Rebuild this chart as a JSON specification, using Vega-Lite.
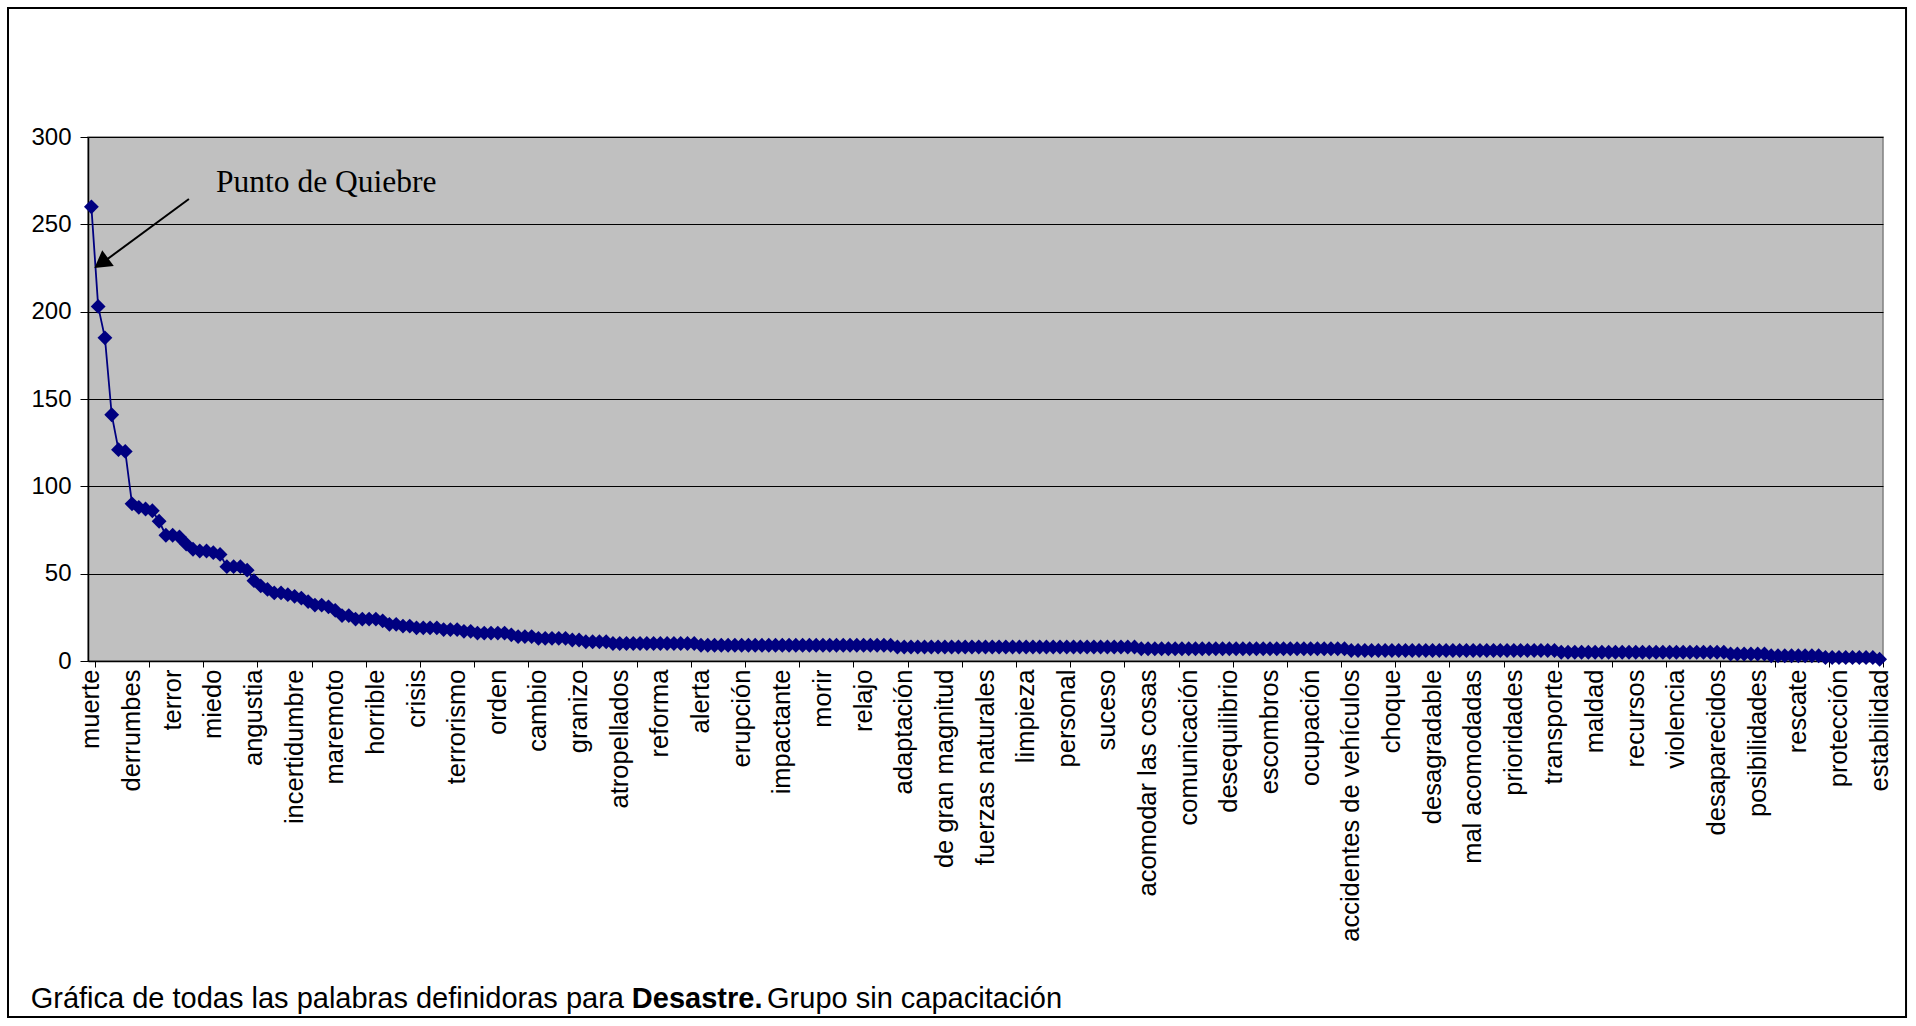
{
  "$schema": "https://vega.github.io/schema/vega-lite/v6.json",
  "width": 1795,
  "height": 524,
  "autosize": {"type": "none"},
  "padding": {"left": 88, "top": 137, "right": 33, "bottom": 365},
  "background": "#FFFFFF",
  "config": {
    "view": {"fill": "#C0C0C0", "stroke": "#808080", "strokeWidth": 1.5},
    "font": "Liberation Sans"
  },
  "datasets": {
    "frecuencias": [
      {"rango":1,"frecuencia":260,"palabra":"muerte"},{"rango":2,"frecuencia":203},{"rango":3,"frecuencia":185},{"rango":4,"frecuencia":141},{"rango":5,"frecuencia":121},{"rango":6,"frecuencia":120},
      {"rango":7,"frecuencia":90,"palabra":"derrumbes"},{"rango":8,"frecuencia":88},{"rango":9,"frecuencia":87},{"rango":10,"frecuencia":86},{"rango":11,"frecuencia":80},{"rango":12,"frecuencia":72},
      {"rango":13,"frecuencia":72,"palabra":"terror"},{"rango":14,"frecuencia":71},{"rango":15,"frecuencia":67},{"rango":16,"frecuencia":64},{"rango":17,"frecuencia":63},{"rango":18,"frecuencia":63},
      {"rango":19,"frecuencia":62,"palabra":"miedo"},{"rango":20,"frecuencia":61},{"rango":21,"frecuencia":54},{"rango":22,"frecuencia":54},{"rango":23,"frecuencia":54},{"rango":24,"frecuencia":52},
      {"rango":25,"frecuencia":46,"palabra":"angustia"},{"rango":26,"frecuencia":43},{"rango":27,"frecuencia":41},{"rango":28,"frecuencia":39},{"rango":29,"frecuencia":39},{"rango":30,"frecuencia":38},
      {"rango":31,"frecuencia":37,"palabra":"incertidumbre"},{"rango":32,"frecuencia":36},{"rango":33,"frecuencia":34},{"rango":34,"frecuencia":32},{"rango":35,"frecuencia":32},{"rango":36,"frecuencia":31},
      {"rango":37,"frecuencia":29,"palabra":"maremoto"},{"rango":38,"frecuencia":26},{"rango":39,"frecuencia":26},{"rango":40,"frecuencia":24},{"rango":41,"frecuencia":24},{"rango":42,"frecuencia":24},
      {"rango":43,"frecuencia":24,"palabra":"horrible"},{"rango":44,"frecuencia":23},{"rango":45,"frecuencia":21},{"rango":46,"frecuencia":21},{"rango":47,"frecuencia":20},{"rango":48,"frecuencia":20},
      {"rango":49,"frecuencia":19,"palabra":"crisis"},{"rango":50,"frecuencia":19},{"rango":51,"frecuencia":19},{"rango":52,"frecuencia":19},{"rango":53,"frecuencia":18},{"rango":54,"frecuencia":18},
      {"rango":55,"frecuencia":18,"palabra":"terrorismo"},{"rango":56,"frecuencia":17},{"rango":57,"frecuencia":17},{"rango":58,"frecuencia":16},{"rango":59,"frecuencia":16},{"rango":60,"frecuencia":16},
      {"rango":61,"frecuencia":16,"palabra":"orden"},{"rango":62,"frecuencia":16},{"rango":63,"frecuencia":15},{"rango":64,"frecuencia":14},{"rango":65,"frecuencia":14},{"rango":66,"frecuencia":14},
      {"rango":67,"frecuencia":13,"palabra":"cambio"},{"rango":68,"frecuencia":13},{"rango":69,"frecuencia":13},{"rango":70,"frecuencia":13},{"rango":71,"frecuencia":13},{"rango":72,"frecuencia":12},
      {"rango":73,"frecuencia":12,"palabra":"granizo"},{"rango":74,"frecuencia":11},{"rango":75,"frecuencia":11},{"rango":76,"frecuencia":11},{"rango":77,"frecuencia":11},{"rango":78,"frecuencia":10},
      {"rango":79,"frecuencia":10,"palabra":"atropellados"},{"rango":80,"frecuencia":10},{"rango":81,"frecuencia":10},{"rango":82,"frecuencia":10},{"rango":83,"frecuencia":10},{"rango":84,"frecuencia":10},
      {"rango":85,"frecuencia":10,"palabra":"reforma"},{"rango":86,"frecuencia":10},{"rango":87,"frecuencia":10},{"rango":88,"frecuencia":10},{"rango":89,"frecuencia":10},{"rango":90,"frecuencia":10},
      {"rango":91,"frecuencia":9,"palabra":"alerta"},{"rango":92,"frecuencia":9},{"rango":93,"frecuencia":9},{"rango":94,"frecuencia":9},{"rango":95,"frecuencia":9},{"rango":96,"frecuencia":9},
      {"rango":97,"frecuencia":9,"palabra":"erupción"},{"rango":98,"frecuencia":9},{"rango":99,"frecuencia":9},{"rango":100,"frecuencia":9},{"rango":101,"frecuencia":9},{"rango":102,"frecuencia":9},
      {"rango":103,"frecuencia":9,"palabra":"impactante"},{"rango":104,"frecuencia":9},{"rango":105,"frecuencia":9},{"rango":106,"frecuencia":9},{"rango":107,"frecuencia":9},{"rango":108,"frecuencia":9},
      {"rango":109,"frecuencia":9,"palabra":"morir"},{"rango":110,"frecuencia":9},{"rango":111,"frecuencia":9},{"rango":112,"frecuencia":9},{"rango":113,"frecuencia":9},{"rango":114,"frecuencia":9},
      {"rango":115,"frecuencia":9,"palabra":"relajo"},{"rango":116,"frecuencia":9},{"rango":117,"frecuencia":9},{"rango":118,"frecuencia":9},{"rango":119,"frecuencia":9},{"rango":120,"frecuencia":8},
      {"rango":121,"frecuencia":8,"palabra":"adaptación"},{"rango":122,"frecuencia":8},{"rango":123,"frecuencia":8},{"rango":124,"frecuencia":8},{"rango":125,"frecuencia":8},{"rango":126,"frecuencia":8},
      {"rango":127,"frecuencia":8,"palabra":"de gran magnitud"},{"rango":128,"frecuencia":8},{"rango":129,"frecuencia":8},{"rango":130,"frecuencia":8},{"rango":131,"frecuencia":8},{"rango":132,"frecuencia":8},
      {"rango":133,"frecuencia":8,"palabra":"fuerzas naturales"},{"rango":134,"frecuencia":8},{"rango":135,"frecuencia":8},{"rango":136,"frecuencia":8},{"rango":137,"frecuencia":8},{"rango":138,"frecuencia":8},
      {"rango":139,"frecuencia":8,"palabra":"limpieza"},{"rango":140,"frecuencia":8},{"rango":141,"frecuencia":8},{"rango":142,"frecuencia":8},{"rango":143,"frecuencia":8},{"rango":144,"frecuencia":8},
      {"rango":145,"frecuencia":8,"palabra":"personal"},{"rango":146,"frecuencia":8},{"rango":147,"frecuencia":8},{"rango":148,"frecuencia":8},{"rango":149,"frecuencia":8},{"rango":150,"frecuencia":8},
      {"rango":151,"frecuencia":8,"palabra":"suceso"},{"rango":152,"frecuencia":8},{"rango":153,"frecuencia":8},{"rango":154,"frecuencia":8},{"rango":155,"frecuencia":8},{"rango":156,"frecuencia":7},
      {"rango":157,"frecuencia":7,"palabra":"acomodar las cosas"},{"rango":158,"frecuencia":7},{"rango":159,"frecuencia":7},{"rango":160,"frecuencia":7},{"rango":161,"frecuencia":7},{"rango":162,"frecuencia":7},
      {"rango":163,"frecuencia":7,"palabra":"comunicación"},{"rango":164,"frecuencia":7},{"rango":165,"frecuencia":7},{"rango":166,"frecuencia":7},{"rango":167,"frecuencia":7},{"rango":168,"frecuencia":7},
      {"rango":169,"frecuencia":7,"palabra":"desequilibrio"},{"rango":170,"frecuencia":7},{"rango":171,"frecuencia":7},{"rango":172,"frecuencia":7},{"rango":173,"frecuencia":7},{"rango":174,"frecuencia":7},
      {"rango":175,"frecuencia":7,"palabra":"escombros"},{"rango":176,"frecuencia":7},{"rango":177,"frecuencia":7},{"rango":178,"frecuencia":7},{"rango":179,"frecuencia":7},{"rango":180,"frecuencia":7},
      {"rango":181,"frecuencia":7,"palabra":"ocupación"},{"rango":182,"frecuencia":7},{"rango":183,"frecuencia":7},{"rango":184,"frecuencia":7},{"rango":185,"frecuencia":7},{"rango":186,"frecuencia":7},
      {"rango":187,"frecuencia":6,"palabra":"accidentes de vehículos"},{"rango":188,"frecuencia":6},{"rango":189,"frecuencia":6},{"rango":190,"frecuencia":6},{"rango":191,"frecuencia":6},{"rango":192,"frecuencia":6},
      {"rango":193,"frecuencia":6,"palabra":"choque"},{"rango":194,"frecuencia":6},{"rango":195,"frecuencia":6},{"rango":196,"frecuencia":6},{"rango":197,"frecuencia":6},{"rango":198,"frecuencia":6},
      {"rango":199,"frecuencia":6,"palabra":"desagradable"},{"rango":200,"frecuencia":6},{"rango":201,"frecuencia":6},{"rango":202,"frecuencia":6},{"rango":203,"frecuencia":6},{"rango":204,"frecuencia":6},
      {"rango":205,"frecuencia":6,"palabra":"mal acomodadas"},{"rango":206,"frecuencia":6},{"rango":207,"frecuencia":6},{"rango":208,"frecuencia":6},{"rango":209,"frecuencia":6},{"rango":210,"frecuencia":6},
      {"rango":211,"frecuencia":6,"palabra":"prioridades"},{"rango":212,"frecuencia":6},{"rango":213,"frecuencia":6},{"rango":214,"frecuencia":6},{"rango":215,"frecuencia":6},{"rango":216,"frecuencia":6},
      {"rango":217,"frecuencia":6,"palabra":"transporte"},{"rango":218,"frecuencia":5},{"rango":219,"frecuencia":5},{"rango":220,"frecuencia":5},{"rango":221,"frecuencia":5},{"rango":222,"frecuencia":5},
      {"rango":223,"frecuencia":5,"palabra":"maldad"},{"rango":224,"frecuencia":5},{"rango":225,"frecuencia":5},{"rango":226,"frecuencia":5},{"rango":227,"frecuencia":5},{"rango":228,"frecuencia":5},
      {"rango":229,"frecuencia":5,"palabra":"recursos"},{"rango":230,"frecuencia":5},{"rango":231,"frecuencia":5},{"rango":232,"frecuencia":5},{"rango":233,"frecuencia":5},{"rango":234,"frecuencia":5},
      {"rango":235,"frecuencia":5,"palabra":"violencia"},{"rango":236,"frecuencia":5},{"rango":237,"frecuencia":5},{"rango":238,"frecuencia":5},{"rango":239,"frecuencia":5},{"rango":240,"frecuencia":5},
      {"rango":241,"frecuencia":5,"palabra":"desaparecidos"},{"rango":242,"frecuencia":5},{"rango":243,"frecuencia":4},{"rango":244,"frecuencia":4},{"rango":245,"frecuencia":4},{"rango":246,"frecuencia":4},
      {"rango":247,"frecuencia":4,"palabra":"posibilidades"},{"rango":248,"frecuencia":4},{"rango":249,"frecuencia":3},{"rango":250,"frecuencia":3},{"rango":251,"frecuencia":3},{"rango":252,"frecuencia":3},
      {"rango":253,"frecuencia":3,"palabra":"rescate"},{"rango":254,"frecuencia":3},{"rango":255,"frecuencia":3},{"rango":256,"frecuencia":3},{"rango":257,"frecuencia":2},{"rango":258,"frecuencia":2},
      {"rango":259,"frecuencia":2,"palabra":"protección"},{"rango":260,"frecuencia":2},{"rango":261,"frecuencia":2},{"rango":262,"frecuencia":2},{"rango":263,"frecuencia":2},{"rango":264,"frecuencia":2},
      {"rango":265,"frecuencia":1,"palabra":"estabilidad"}
    ]
  },
  "layer": [
    {
      "data": {"values": [{"nota": "marco"}]},
      "mark": {"type": "rect", "fill": null, "fillOpacity": 0, "stroke": "#000000", "strokeWidth": 2, "clip": false},
      "encoding": {
        "x": {"datum": -11.31, "type": "quantitative"},
        "x2": {"datum": 268.9},
        "y": {"datum": 373.85, "type": "quantitative"},
        "y2": {"datum": -203.8}
      }
    },
    {
      "data": {"name": "frecuencias"},
      "mark": {"type": "line", "color": "#000080", "strokeWidth": 1.8},
      "encoding": {
        "x": {
          "field": "rango", "type": "quantitative",
          "scale": {"domain": [0.5, 265.5], "nice": false, "zero": false},
          "axis": {
            "title": null,
            "values": [1,2,3,4,5,6,7,8,9,10,11,12,13,14,15,16,17,18,19,20,21,22,23,24,25,26,27,28,29,30,31,32,33,34,35,36,37,38,39,40,41,42,43,44,45,46,47,48,49,50,51,52,53,54,55,56,57,58,59,60,61,62,63,64,65,66,67,68,69,70,71,72,73,74,75,76,77,78,79,80,81,82,83,84,85,86,87,88,89,90,91,92,93,94,95,96,97,98,99,100,101,102,103,104,105,106,107,108,109,110,111,112,113,114,115,116,117,118,119,120,121,122,123,124,125,126,127,128,129,130,131,132,133,134,135,136,137,138,139,140,141,142,143,144,145,146,147,148,149,150,151,152,153,154,155,156,157,158,159,160,161,162,163,164,165,166,167,168,169,170,171,172,173,174,175,176,177,178,179,180,181,182,183,184,185,186,187,188,189,190,191,192,193,194,195,196,197,198,199,200,201,202,203,204,205,206,207,208,209,210,211,212,213,214,215,216,217,218,219,220,221,222,223,224,225,226,227,228,229,230,231,232,233,234,235,236,237,238,239,240,241,242,243,244,245,246,247,248,249,250,251,252,253,254,255,256,257,258,259,260,261,262,263,264,265],
            "labels": false,
            "tickOffset": 3.387,
            "tickSize": 6,
            "tickColor": "#000000",
            "tickWidth": 1,
            "tickRound": true,
            "domainColor": "#000000",
            "domainWidth": 1.5,
            "grid": false
          }
        },
        "y": {
          "field": "frecuencia", "type": "quantitative",
          "scale": {"domain": [0, 300], "nice": false},
          "axis": {
            "title": null,
            "values": [0, 50, 100, 150, 200, 250, 300],
            "grid": true,
            "gridColor": "#000000",
            "gridWidth": 1.2,
            "gridOpacity": 1,
            "tickSize": 8,
            "tickColor": "#000000",
            "labelFont": "Liberation Sans",
            "labelFontSize": 24,
            "labelColor": "#000000",
            "labelPadding": 9,
            "domainColor": "#000000",
            "domainWidth": 1.5
          }
        }
      }
    },
    {
      "data": {"name": "frecuencias"},
      "mark": {"type": "point", "shape": "diamond", "filled": true, "size": 220, "color": "#000080", "opacity": 1},
      "encoding": {
        "x": {"field": "rango", "type": "quantitative"},
        "y": {"field": "frecuencia", "type": "quantitative"}
      }
    },
    {
      "data": {"name": "frecuencias"},
      "transform": [{"filter": "isValid(datum.palabra)"}],
      "mark": {"type": "text", "angle": 270, "align": "right", "baseline": "middle", "font": "Liberation Sans", "fontSize": 25.5, "color": "#000000", "clip": false},
      "encoding": {
        "x": {"field": "rango", "type": "quantitative"},
        "y": {"datum": -4.93, "type": "quantitative"},
        "text": {"field": "palabra"}
      }
    },
    {
      "data": {"values": [{"nota": "flecha"}]},
      "mark": {"type": "rule", "color": "#000000", "strokeWidth": 2},
      "encoding": {
        "x": {"datum": 15.4, "type": "quantitative"},
        "y": {"datum": 264.5, "type": "quantitative"},
        "x2": {"datum": 2.8},
        "y2": {"datum": 228.5}
      }
    },
    {
      "data": {"values": [{"nota": "punta"}]},
      "mark": {"type": "point", "shape": "triangle-up", "filled": true, "size": 380, "color": "#000000", "opacity": 1, "angle": 233.7},
      "encoding": {
        "x": {"datum": 2.45, "type": "quantitative"},
        "y": {"datum": 227.8, "type": "quantitative"}
      }
    },
    {
      "data": {"values": [{"texto": "Punto de Quiebre"}]},
      "mark": {"type": "text", "align": "left", "baseline": "alphabetic", "font": "Liberation Serif", "fontSize": 31.5, "color": "#000000"},
      "encoding": {
        "x": {"datum": 19.4, "type": "quantitative"},
        "y": {"datum": 268.5, "type": "quantitative"},
        "text": {"field": "texto"}
      }
    },
    {
      "data": {"values": [{"texto": "Gráfica de todas las palabras definidoras para"}]},
      "mark": {"type": "text", "align": "left", "baseline": "alphabetic", "font": "Liberation Sans", "fontSize": 29, "color": "#000000"},
      "encoding": {
        "x": {"datum": -7.96, "type": "quantitative"},
        "y": {"datum": -198.6, "type": "quantitative"},
        "text": {"field": "texto"}
      }
    },
    {
      "data": {"values": [{"texto": "Desastre."}]},
      "mark": {"type": "text", "align": "left", "baseline": "alphabetic", "font": "Liberation Sans", "fontSize": 29, "fontWeight": "bold", "color": "#000000"},
      "encoding": {
        "x": {"datum": 80.79, "type": "quantitative"},
        "y": {"datum": -198.6, "type": "quantitative"},
        "text": {"field": "texto"}
      }
    },
    {
      "data": {"values": [{"texto": "Grupo sin capacitación"}]},
      "mark": {"type": "text", "align": "left", "baseline": "alphabetic", "font": "Liberation Sans", "fontSize": 29, "color": "#000000"},
      "encoding": {
        "x": {"datum": 100.75, "type": "quantitative"},
        "y": {"datum": -198.6, "type": "quantitative"},
        "text": {"field": "texto"}
      }
    }
  ]
}
